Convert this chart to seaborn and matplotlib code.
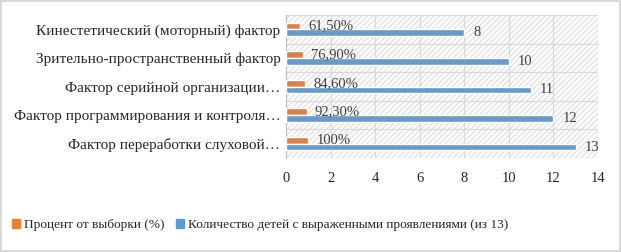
import pandas as pd
import numpy as np
import seaborn as sns
import matplotlib.pyplot as plt
from matplotlib.ticker import FixedLocator

# данные
categories = ['Кинестетический (моторный) фактор',
              'Зрительно-пространственный фактор',
              'Фактор серийной организации…',
              'Фактор программирования и контроля…',
              'Фактор переработки слуховой…']
percent = [0.615, 0.769, 0.846, 0.923, 1.0]
percent_labels = ['61,50%', '76,90%', '84,60%', '92,30%', '100%']
counts = [8, 10, 11, 12, 13]
series = ['Процент от выборки (%)',
          'Количество детей с выраженными проявлениями (из 13)']
colors = ['#ED7D31', '#5B9BD5']

df = pd.DataFrame({
    'cat': categories * 2,
    'val': percent + counts,
    'ser': [series[0]] * len(categories) + [series[1]] * len(categories),
})

sns.set_style('white')
plt.rcParams['font.family'] = ['Liberation Serif', 'DejaVu Serif']

fig = plt.figure(figsize=(6.21, 2.52), dpi=100)
fig.patch.set_edgecolor('#d9d9d9')
fig.patch.set_linewidth(1.5)
ax = fig.add_axes([0.4605, 0.373, 0.5025, 0.567])

# штриховка фона области построения
ax.patch.set_facecolor('white')
ax.patch.set_hatch('//////')
ax.patch.set_edgecolor('#e3e3e3')
ax.patch.set_linewidth(0)

sns.barplot(data=df, y='cat', x='val', hue='ser', hue_order=series,
            palette=colors, orient='h', width=0.47, ax=ax, legend=False,
            zorder=3)

ax.set_xlim(0, 14)
ax.set_xticks(np.arange(0, 15, 2))
ax.yaxis.set_minor_locator(FixedLocator(np.arange(-0.5, len(categories), 1)))
ax.set_ylim(len(categories) - 0.5, -0.5)
ax.grid(axis='x', color='#d9d9d9', linewidth=0.9, zorder=1)
ax.grid(axis='y', which='minor', color='#d9d9d9', linewidth=0.9, zorder=1)
ax.set_axisbelow(True)
for s in ['top', 'right', 'bottom']:
    ax.spines[s].set_visible(False)
ax.spines['left'].set_color('#bfbfbf')
ax.tick_params(axis='both', length=0, colors='#262626')
ax.tick_params(axis='x', pad=10, labelsize=10.5)
ax.tick_params(axis='y', pad=4, labelsize=11)
ax.set_xlabel('')
ax.set_ylabel('')

# подписи данных
ax.bar_label(ax.containers[0], labels=percent_labels, padding=6,
             fontsize=10.5, color='#404040')
ax.bar_label(ax.containers[1], labels=[str(c) for c in counts], padding=6.5,
             fontsize=10.5, color='#404040')

handles = [plt.Rectangle((0, 0), 1, 1, color=c) for c in colors]
fig.legend(handles, series, loc='center', bbox_to_anchor=(0.419, 0.107),
           ncol=2, frameon=False, fontsize=9.6, handlelength=0.6,
           handleheight=0.6, handletextpad=0.3, columnspacing=0.8,
           labelcolor='#262626')

fig.savefig('out.png', dpi=100)
